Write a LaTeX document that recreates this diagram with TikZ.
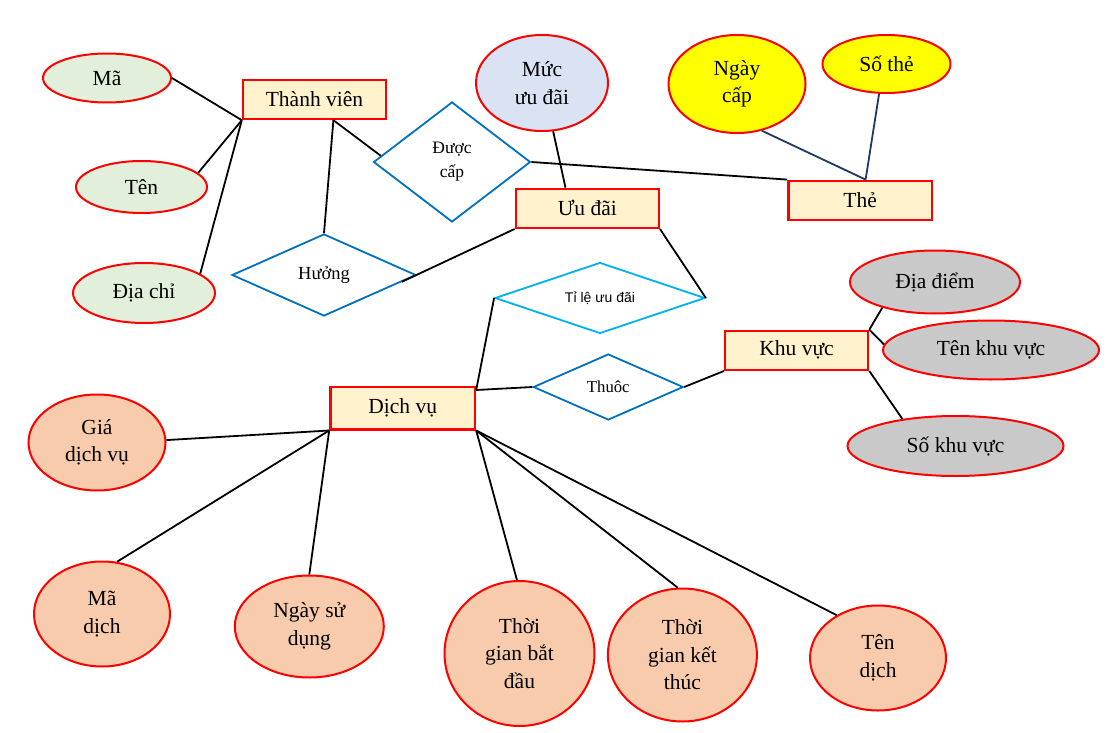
\documentclass[tikz,border=0pt]{standalone}
\usepackage{fontspec}
\setmainfont{Liberation Serif}
\newfontfamily\arialfont{Liberation Sans}
\usetikzlibrary{shapes.geometric,calc}
\definecolor{entfill}{HTML}{FFF2CC}
\definecolor{greenfill}{HTML}{E2EFDA}
\definecolor{bluefill}{HTML}{DAE3F3}
\definecolor{yellowfill}{HTML}{FFFF00}
\definecolor{greyfill}{HTML}{C9C9C9}
\definecolor{peachfill}{HTML}{F8CBAD}
\definecolor{relblue}{HTML}{0070C0}
\definecolor{skyblue}{HTML}{00B0F0}
\definecolor{navyline}{HTML}{203864}
\definecolor{redline}{HTML}{FF0000}
\begin{document}
\begin{tikzpicture}[x=1pt,y=-1pt,
  entity/.style={draw=redline, line width=2.4pt, fill=entfill, minimum width=143pt, minimum height=39pt, inner sep=0pt, font=\fontsize{21.5}{27}\selectfont},
  attr/.style={ellipse, draw=redline, line width=2pt, inner sep=0pt, align=center, font=\fontsize{21.5}{27.5}\selectfont},
  rel/.style={diamond, draw=relblue, line width=1.8pt, fill=white, inner sep=0pt, align=center},
  conn/.style={line width=1.8pt, draw=black},
  navyconn/.style={line width=1.8pt, draw=navyline},
]
\fill[white] (0,0) rectangle (1109,733);
\useasboundingbox (0,0) rectangle (1109,733);

% entities
\node[entity] (tv) at (314.5,99.5) {Thành viên};
\node[entity] (ud) at (587.3,208.3) {Ưu đãi};
\node[entity, minimum width=143.6pt] (the) at (860.2,200.3) {Thẻ};
\node[entity] (kv) at (796.6,350.3) {Khu vực};
\node[entity, minimum width=144.6pt, minimum height=42.6pt] (dv) at (402.7,408) {Dịch vụ};

% attributes
\node[attr, fill=greenfill, minimum width=128pt, minimum height=49pt] (ma) at (107,78) {Mã};
\node[attr, fill=greenfill, minimum width=131pt, minimum height=52pt] (ten) at (141.5,187) {Tên};
\node[attr, fill=greenfill, minimum width=142pt, minimum height=60pt] (dchi) at (144,293) {Địa chỉ};
\node[attr, fill=bluefill, minimum width=132pt, minimum height=96pt] (muc) at (542,83) {Mức\\ưu đãi};
\node[attr, fill=yellowfill, minimum width=137pt, minimum height=98pt] (nc) at (737,84) {Ngày\\cấp};
\node[attr, fill=yellowfill, minimum width=128pt, minimum height=58pt] (st) at (886.5,64) {Số thẻ};
\node[attr, fill=greyfill, minimum width=170pt, minimum height=63pt] (dd) at (935,282) {Địa điểm};
\node[attr, fill=greyfill, minimum width=216pt, minimum height=59pt] (tkv) at (991,350) {Tên khu vực};
\node[attr, fill=greyfill, minimum width=216pt, minimum height=60pt] (skv) at (955.5,446) {Số khu vực};
\node[attr, fill=peachfill, minimum width=137pt, minimum height=96pt] (gia) at (97,442.5) {Giá\\dịch vụ};
\node[attr, fill=peachfill, minimum width=136pt, minimum height=105pt] (mad) at (102,614) {Mã\\dịch};
\node[attr, fill=peachfill, minimum width=149pt, minimum height=102pt] (nsd) at (309.3,626.5) {Ngày sử\\dụng};
\node[attr, fill=peachfill, minimum width=150pt, minimum height=145pt] (tgbd) at (519.5,653.5) {Thời\\gian bắt\\đầu};
\node[attr, fill=peachfill, minimum width=149pt, minimum height=133pt] (tgkt) at (682.4,655) {Thời\\gian kết\\thúc};
\node[attr, fill=peachfill, minimum width=136pt, minimum height=105pt] (tend) at (878,658) {Tên\\dịch};

% relationships
\node[rel, aspect=1.3, minimum width=157pt, minimum height=120pt, font=\fontsize{17.5}{24}\selectfont] (duoc) at (452,162) {Được\\cấp};
\node[rel, aspect=2.24, minimum width=184pt, minimum height=82pt, font=\fontsize{18.5}{22}\selectfont] (huong) at (324,275) {Hưởng};
\node[rel, draw=skyblue, aspect=3, minimum width=210pt, minimum height=71pt, font=\arialfont\fontsize{14}{17}\selectfont] (tl) at (600,298) {Tỉ lệ ưu đãi};
\node[rel, aspect=2.27, minimum width=150pt, minimum height=66pt, font=\fontsize{16.7}{20}\selectfont] (thuoc) at (608.3,387) {Thuôc};

% helper points
\coordinate (tvb) at ($(tv.south west)!0.63!(tv.south east)$);
\coordinate (udt) at ($(ud.north west)!0.35!(ud.north east)$);
\coordinate (thet) at ($(the.north west)!0.537!(the.north east)$);
\coordinate (dvr) at ($(dv.north east)!0.1!(dv.south east)$);

% connectors
\draw[conn] (ma.east) -- (tv.south west);
\draw[conn] (ten.14) -- (tv.south west);
\draw[conn] (dchi.19) -- (tv.south west);
\draw[conn] (tvb) -- (huong.north);
\draw[conn] (tvb) -- (duoc.175);
\draw[conn] (duoc.east) -- (the.north west);
\draw[conn] (huong.-5) -- (ud.south west);
\draw[conn] (muc.-77) -- (udt);
\draw[navyconn] (nc.-62) -- (thet);
\draw[navyconn] (st.-104) -- (thet);
\draw[conn] (ud.south east) -- (tl.east);
\draw[conn] (tl.west) -- (dvr);
\draw[conn] (dvr) -- (thuoc.west);
\draw[conn] (thuoc.east) -- (kv.south west);
\draw[conn] (dd.-154) -- (kv.north east);
\draw[conn] (tkv.177) -- (kv.north east);
\draw[conn] (kv.south east) -- (skv.153);
\draw[conn] (gia.2) -- (dv.south west);
\draw[conn] (mad.74) -- (dv.south west);
\draw[conn] (nsd.north) -- (dv.south west);
\draw[conn] (tgbd.92) -- (dv.south east);
\draw[conn] (tgkt.94) -- (dv.south east);
\draw[conn] (tend.134) -- (dv.south east);
\end{tikzpicture}
\end{document}
